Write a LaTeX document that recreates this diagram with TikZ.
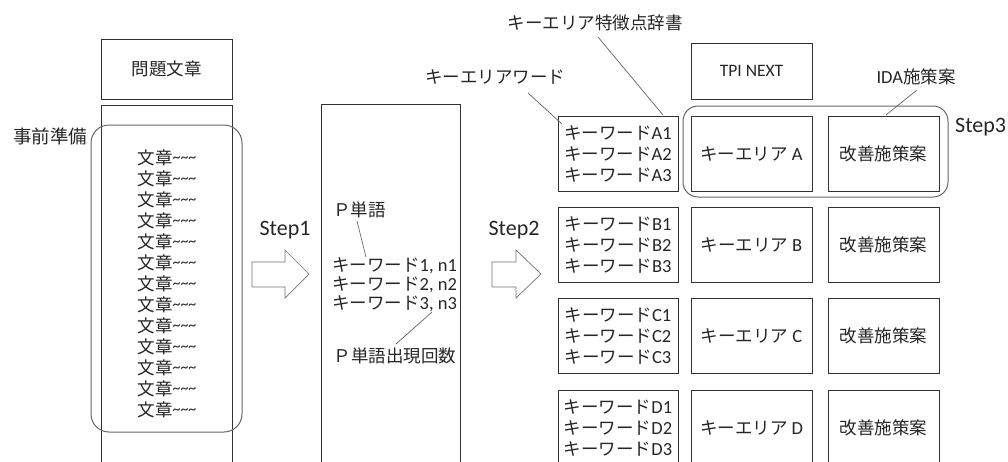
\documentclass[tikz,border=0pt]{standalone}
\usepackage{fontspec}
\setmainfont{Noto Sans CJK JP}
\newfontfamily\lat{Carlito}
\newcommand\tld{{\lat\fontsize{16}{16}\selectfont\raisebox{2.5pt}{\textasciitilde\textasciitilde\textasciitilde}}}
\newcommand\lt[1]{{\lat\fontsize{18.5}{21}\selectfont #1}}
\begin{document}
\begin{tikzpicture}[x=1pt,y=-1pt,
  every node/.style={text=black!85, font=\fontsize{17.5}{21}\selectfont, inner sep=0pt},
  box/.style={draw=black!80, line width=0.8pt},
  grp/.style={draw=black!60, line width=1pt, rounded corners=18pt},
  lead/.style={draw=black!60, line width=0.7pt},
  blockarrow/.style={draw=black!55, fill=white, line width=0.7pt},
  steplabel/.style={font=\lat\fontsize{22}{26}\selectfont},
  latin/.style={font=\lat\fontsize{17.5}{21}\selectfont}]
\clip (0,0) rectangle (1008,461);
\fill[white] (0,0) rectangle (1008,461);

% column 1
\node[box, minimum width=131pt, minimum height=60pt] (q) at (166.5,69) {問題文章};
\node[box, minimum width=131pt, minimum height=380pt, anchor=north] (doc) at (166.5,105) {};
\node[grp, minimum width=151pt, minimum height=307pt] (pre) at (166.5,278.5) {};
\node[font=\fontsize{18.5}{21}\selectfont] (prelab) at (50,136) {事前準備};
\foreach \i in {0,...,12}
  \node (s\i) at (167,158+21*\i) {文章\tld};

% step 1
\node[steplabel] (st1) at (285,230) {Step1};
\draw[blockarrow] (252,262) -- (285,262) -- (285,250) -- (309,274) -- (285,298) -- (285,287) -- (252,287) -- cycle;

% column 2
\node[box, minimum width=139pt, minimum height=380pt, anchor=north] (pcol) at (390.5,104) {};
\node[anchor=west] (pw) at (333,210) {Ｐ単語};
\node[anchor=west, align=left, font=\fontsize{17.5}{19}\selectfont] (kws) at (332,285)
  {キーワード\lt{1, n1}\\キーワード\lt{2, n2}\\キーワード\lt{3, n3}};
\node (pcnt) at (395,356) {Ｐ単語出現回数};
\coordinate (pwa) at (357,221);
\coordinate (pwb) at (366,257);
\draw[lead] (pwa) -- (pwb);
\coordinate (pca) at (432,312);
\coordinate (pcb) at (396,344);
\draw[lead] (pca) -- (pcb);

% step 2
\node[steplabel] (st2) at (514,230) {Step2};
\draw[blockarrow] (492,262) -- (516,262) -- (516,250) -- (541,274) -- (516,298) -- (516,287) -- (492,287) -- cycle;

% right table
\node[box, minimum width=121pt, minimum height=56pt, latin] (tpi) at (751.5,71) {TPI NEXT};
\node[grp, rounded corners=15pt, minimum width=265pt, minimum height=91pt] (g3) at (815.5,151.5) {};
\node[steplabel, anchor=west] (st3) at (955,127) {Step3};

\foreach \r/\y in {A/153.5,B/244.5,C/336,D/427.5}{
  \node[box, minimum width=120pt, minimum height=75pt, align=left] (kw\r) at (618,\y)
    {キーワード\lt{\r1}\\キーワード\lt{\r2}\\キーワード\lt{\r3}};
  \node[box, minimum width=121pt, minimum height=75pt] (ka\r) at (751.5,\y) {キーエリア \lt{\r}};
  \node[box, minimum width=111pt, minimum height=75pt] (im\r) at (883.5,\y) {改善施策案};
}

% labels with leaders
\node (dict) at (595,23) {キーエリア特徴点辞書};
\coordinate (da) at (598,37);
\coordinate (db) at (663,115);
\draw[lead] (da) -- (db);
\node (kwl) at (495,77) {キーエリアワード};
\coordinate (ka) at (528,93);
\coordinate (kb) at (562,124);
\draw[lead] (ka) -- (kb);
\node (ida) at (916,77) {\lt{IDA}施策案};
\coordinate (ia) at (917,90);
\coordinate (ib) at (886,115);
\draw[lead] (ia) -- (ib);
\end{tikzpicture}
\end{document}
